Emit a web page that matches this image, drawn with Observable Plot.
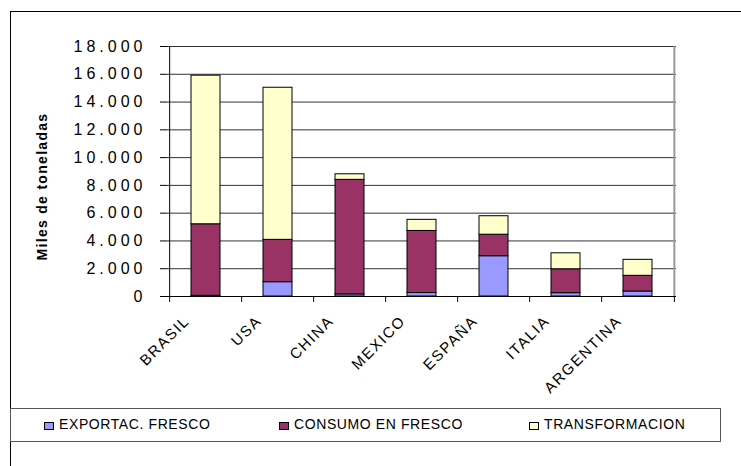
<!DOCTYPE html>
<html><head><meta charset="utf-8">
<script src="https://cdn.jsdelivr.net/npm/d3@7"></script>
<script src="https://cdn.jsdelivr.net/npm/@observablehq/plot@0.6"></script>
<style>
body{margin:0;background:#fff;font-family:"Liberation Sans",Arial,sans-serif;}
#wrap{position:relative;width:741px;height:466px;overflow:hidden;background:#fff;}
#chart{position:absolute;left:0;top:0;}
#frame{position:absolute;left:10px;top:11px;width:800px;height:600px;border:1px solid #000;box-sizing:border-box;pointer-events:none;}
#legend{position:absolute;left:10px;top:408px;width:711px;height:34px;border:1px solid #555;box-sizing:border-box;background:#fff;}
.item{position:absolute;top:6px;font-size:14px;letter-spacing:0.6px;color:#000;white-space:nowrap;line-height:18px;}
.sw{display:inline-block;width:10px;height:8px;border:1px solid #000;vertical-align:-1px;margin-right:5px;box-sizing:border-box;}
</style>
</head><body>
<div id="wrap"><div id="chart"></div><div id="frame"></div><div id="legend"></div></div>
<script>
const categories = ["BRASIL","USA","CHINA","MEXICO","ESPAÑA","ITALIA","ARGENTINA"];
const seriesNames = ["EXPORTAC. FRESCO","CONSUMO EN FRESCO","TRANSFORMACION"];
const exportaFresco   = [50, 1030, 150, 250, 2900, 240, 360];
const consumoFresco   = [5150, 3050, 8250, 4470, 1550, 1720, 1130];
const transformacion  = [10700, 10950, 400, 800, 1330, 1150, 1150];
const yTicks = [0,2000,4000,6000,8000,10000,12000,14000,16000,18000];
const colors = ["#9999FF","#993366","#FFFFCC"];
const yLabel = "Miles de toneladas";

const seriesValues = [exportaFresco, consumoFresco, transformacion];
const data = [];
categories.forEach((c,i)=>seriesNames.forEach((s,j)=>data.push({cat:c, serie:s, value:seriesValues[j][i]})));

const W = 741, H = 466, mL = 167, mR = 65, mT = 46, mB = 170;
const step = (W - mL - mR) / categories.length;
const fmt = d3.formatLocale({decimal:",", thousands:".", grouping:[3], currency:["",""]}).format(",");
const font = "Liberation Sans, Arial, sans-serif";
const last = categories[categories.length-1];

const plot = Plot.plot({
  width: W, height: H,
  marginLeft: mL, marginRight: mR, marginTop: mT, marginBottom: mB,
  style: {fontFamily: font, background: "transparent"},
  x: {domain: categories, paddingInner: 0.6, paddingOuter: 0.3, axis: null},
  y: {domain: [0, 18000], axis: null},
  color: {domain: seriesNames, range: colors},
  marks: [
    Plot.gridY(yTicks, {stroke: "#333", strokeOpacity: 1, strokeWidth: 1}),
    Plot.ruleX([last], {dx: step/2, stroke: "#999", strokeWidth: 2}),
    Plot.barY(data, {x: "cat", y: "value", fill: "serie", stroke: "#000", strokeWidth: 1, order: null}),
    Plot.ruleY([0], {stroke: "#000", strokeWidth: 1}),
    Plot.ruleX([categories[0]], {dx: -step/2, stroke: "#000", strokeWidth: 1}),
    Plot.axisX({tickSize: 6, fill: "none", dx: -step/2, stroke: "#000", strokeOpacity: 1}),
    Plot.axisX([last], {tickSize: 6, fill: "none", dx: step/2, stroke: "#000", strokeOpacity: 1}),
    Plot.axisX({tickSize: 0, tickPadding: 22, tickRotate: -45, dx: -19, fontSize: 15, fill: "#000", label: null}),
    Plot.axisY(yTicks, {tickSize: 7, tickPadding: 14, tickFormat: fmt, fontSize: 16, fill: "#000", stroke: "#000", strokeOpacity: 1, label: null}),
    Plot.text([yLabel], {frameAnchor: "left", textAnchor: "middle", rotate: -90, dx: -125, dy: 15, fontSize: 14, fontWeight: "bold", fill: "#000"})
  ]
});
document.getElementById("chart").appendChild(plot);
d3.select(plot).selectAll('g[aria-label="y-axis tick label"] text').style("letter-spacing","4px");
d3.select(plot).selectAll('g[aria-label="x-axis tick label"] text').style("letter-spacing","1.6px");
d3.select(plot).selectAll('g[aria-label="text"] text').style("letter-spacing","1.3px");

const legendX = [33, 268, 518];
const lg = d3.select("#legend");
seriesNames.forEach((s,j)=>{
  const it = lg.append("div").attr("class","item").style("left", legendX[j]+"px");
  it.append("span").attr("class","sw").style("background", colors[j]);
  it.append("span").text(s);
});
</script>
</body></html>
